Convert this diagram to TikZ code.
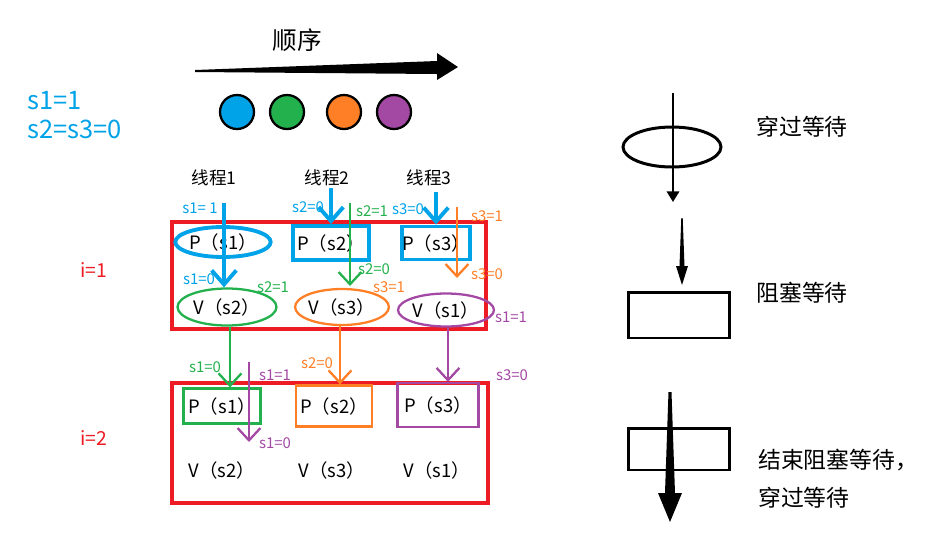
\documentclass[tikz,border=0pt]{standalone}
\usepackage{fontspec}
\setmainfont{Noto Sans CJK SC}
\usetikzlibrary{arrows.meta,shapes.geometric}

\definecolor{sblue}{HTML}{00A2E8}
\definecolor{sgreen}{HTML}{22B14C}
\definecolor{sorange}{HTML}{FF7F27}
\definecolor{spurple}{HTML}{A349A4}
\definecolor{sred}{HTML}{ED1C24}

\begin{document}
\begin{tikzpicture}[
      x=0.02cm, y=-0.02cm,
      lbl/.style={inner sep=0pt, font=\fontsize{8.5}{10}\selectfont},
      op/.style={inner sep=0pt, font=\fontsize{10.5}{12}\selectfont},
      oval/.style={ellipse, draw, op},
      box/.style={rectangle, draw, op},
      ball/.style={circle, draw=black, line width=1.3pt, minimum size=0.68cm, inner sep=0pt},
      barb/.style={line width=2.2pt, -{Straight Barb[length=8pt,width=14pt]}},
      thinbarb/.style={line width=1.3pt, -{Straight Barb[length=7pt,width=13pt]}},
      redbox/.style={draw=sred, line width=2pt},
      legend/.style={font=\fontsize{13}{15}\selectfont}
    ]
    \useasboundingbox (0,0) rectangle (948,549);

    % ---- column x positions of the arrows ----
    \coordinate (c1) at (224,0);
    \coordinate (c1g) at (230,0);
    \coordinate (c1p) at (249,0);
    \coordinate (c2) at (331,0);
    \coordinate (c2g) at (350,0);
    \coordinate (c2o) at (340,0);
    \coordinate (c3) at (436,0);
    \coordinate (c3o) at (457,0);
    \coordinate (c3p) at (448,0);

    % ================= order arrow and tokens =================
    \node[font=\fontsize{14}{16}\selectfont] (order) at (297,40) {顺序};
    \fill (195,70) -- (437,61) -- (437,53) -- (458,67) -- (437,80) -- (437,74) -- (195,72) -- cycle;

    \node[ball, fill=sblue] (tok1) at (237,112) {};
    \node[ball, fill=sgreen] (tok2) at (287,112) {};
    \node[ball, fill=sorange] (tok3) at (344,112) {};
    \node[ball, fill=spurple] (tok4) at (394,112) {};

    \node[anchor=west, inner sep=0pt, text=sblue, font=\fontsize{14.5}{16}\selectfont] (init1) at (27,101) {s1=1};
    \node[anchor=west, inner sep=0pt, text=sblue, font=\fontsize{14.5}{16}\selectfont] (init2) at (27,129) {s2=s3=0};

    \node[font=\fontsize{10}{12}\selectfont] (th1) at (214,178) {线程1};
    \node[font=\fontsize{10}{12}\selectfont] (th2) at (327,178) {线程2};
    \node[font=\fontsize{10}{12}\selectfont] (th3) at (429,178) {线程3};

    % ================= ROUND i=1 =================
    \draw[redbox] (172,222) rectangle (486,329);
    \node[text=sred, font=\fontsize{11}{13}\selectfont] (round1) at (94,270) {i=1};

    \node[oval, draw=sblue, line width=2.2pt, minimum width=1.8cm, minimum height=0.6cm] (p11) at (223,242) {P（s1）};
    \node[box, draw=sblue, line width=2.2pt, minimum width=1.52cm, minimum height=0.68cm] (p12) at (331,243) {P（s2）};
    \node[box, draw=sblue, line width=2.2pt, minimum width=1.34cm, minimum height=0.66cm] (p13) at (436,243) {P（s3）};

    \node[oval, draw=sgreen, line width=1.3pt, minimum width=1.98cm, minimum height=0.74cm] (v11) at (227,307) {V（s2）};
    \node[oval, draw=sorange, line width=1.3pt, minimum width=1.84cm, minimum height=0.72cm] (v12) at (342,307) {V（s3）};
    \node[oval, draw=spurple, line width=1.3pt, minimum width=1.92cm, minimum height=0.66cm] (v13) at (446,310) {V（s1）};

    % ---- thread arrows ----
    \coordinate (t1s) at (224,203);
    \coordinate (t2s) at (331,188);
    \coordinate (t3s) at (436,192);
    \coordinate (g2s) at (350,203);
    \coordinate (g2e) at (350,286);
    \coordinate (o3s) at (457,207);
    \coordinate (o3e) at (457,278);

    \draw[barb, sblue] (t1s) -- (t1s |- v11.north);
    \draw[barb, sblue] (t2s) -- (p12.north);
    \draw[barb, sblue] (t3s) -- (p13.north);
    \draw[thinbarb, sgreen] (g2s) -- (g2e);
    \draw[thinbarb, sorange] (o3s) -- (o3e);

    % ---- semaphore labels ----
    \node[lbl, text=sblue] (l1) at (200,208) {s1= 1};
    \node[lbl, text=sblue] (l2) at (308,207) {s2=0};
    \node[lbl, text=sblue] (l3) at (408,209) {s3=0};
    \node[lbl, text=sblue] (l4) at (199,279) {s1=0};
    \node[lbl, text=sgreen] (l5) at (372,211) {s2=1};
    \node[lbl, text=sgreen] (l6) at (374,269) {s2=0};
    \node[lbl, text=sgreen] (l7) at (273,287) {s2=1};
    \node[lbl, text=sorange] (l8) at (487,216) {s3=1};
    \node[lbl, text=sorange] (l9) at (487,274) {s3=0};
    \node[lbl, text=sorange] (l10) at (389,287) {s3=1};
    \node[lbl, text=spurple] (l11) at (511,317) {s1=1};

    % ================= ROUND i=2 =================
    \draw[redbox] (172,383) rectangle (488,503);
    \node[text=sred, font=\fontsize{11}{13}\selectfont] (round2) at (94,438) {i=2};

    \node[box, draw=sgreen, line width=1.3pt, minimum width=1.54cm, minimum height=0.7cm] (p21) at (222,406) {P（s1）};
    \node[box, draw=sorange, line width=1.3pt, minimum width=1.52cm, minimum height=0.82cm] (p22) at (334,406) {P（s2）};
    \node[box, draw=spurple, line width=1.3pt, minimum width=1.62cm, minimum height=0.88cm] (p23) at (438,405) {P（s3）};

    \node[op] (v21) at (222,470) {V（s2）};
    \node[op] (v22) at (332,470) {V（s3）};
    \node[op] (v23) at (437,470) {V（s1）};

    % ---- hand-over arrows ----
    \coordinate (p1s) at (249,362);
    \coordinate (p1e) at (249,442);

    \draw[thinbarb, sgreen] (v11.south -| c1g) -- (p21.north -| c1g);
    \draw[thinbarb, sorange] (v12.south -| c2o) -- (p22.north -| c2o);
    \draw[thinbarb, spurple] (v13.south -| c3p) -- (p23.north -| c3p);
    \draw[thinbarb, spurple] (p1s) -- (p1e);

    \node[lbl, text=sgreen] (m1) at (205,367) {s1=0};
    \node[lbl, text=spurple] (m2) at (275,375) {s1=1};
    \node[lbl, text=sorange] (m3) at (317,363) {s2=0};
    \node[lbl, text=spurple] (m4) at (512,375) {s3=0};
    \node[lbl, text=spurple] (m5) at (275,443) {s1=0};

    % ================= legend =================
    \node[ellipse, draw, line width=1.7pt, minimum width=1.96cm, minimum height=0.8cm, inner sep=0pt] (key1) at (672,147) {};
    \coordinate (k1s) at (673,93);
    \coordinate (k1e) at (673,202);
    \draw[line width=1.2pt, -{Triangle[length=6pt,width=7pt]}] (k1s) -- (k1e);
    \node[legend] (txt1) at (802,127) {穿过等待};

    \node[rectangle, draw, line width=1.7pt, minimum width=2.04cm, minimum height=0.92cm, inner sep=0pt] (key2) at (679,315) {};
    \fill (681.3,218) -- (682.7,218) -- (684.5,266) -- (688,266) -- (682,285) -- (676,266) -- (679.5,266) -- cycle;
    \node[legend] (txt2) at (802,293) {阻塞等待};

    \node[rectangle, draw, line width=1.7pt, minimum width=2.04cm, minimum height=0.84cm, inner sep=0pt] (key3) at (679,449) {};
    \fill (668.5,392) -- (671.5,392) -- (675,493) -- (682,493) -- (670,522) -- (658,493) -- (665,493) -- cycle;
    \node[legend, anchor=west] (txt3) at (752,460) {结束阻塞等待，};
    \node[legend, anchor=west] (txt4) at (752,498) {穿过等待};

\end{tikzpicture}
\end{document}
